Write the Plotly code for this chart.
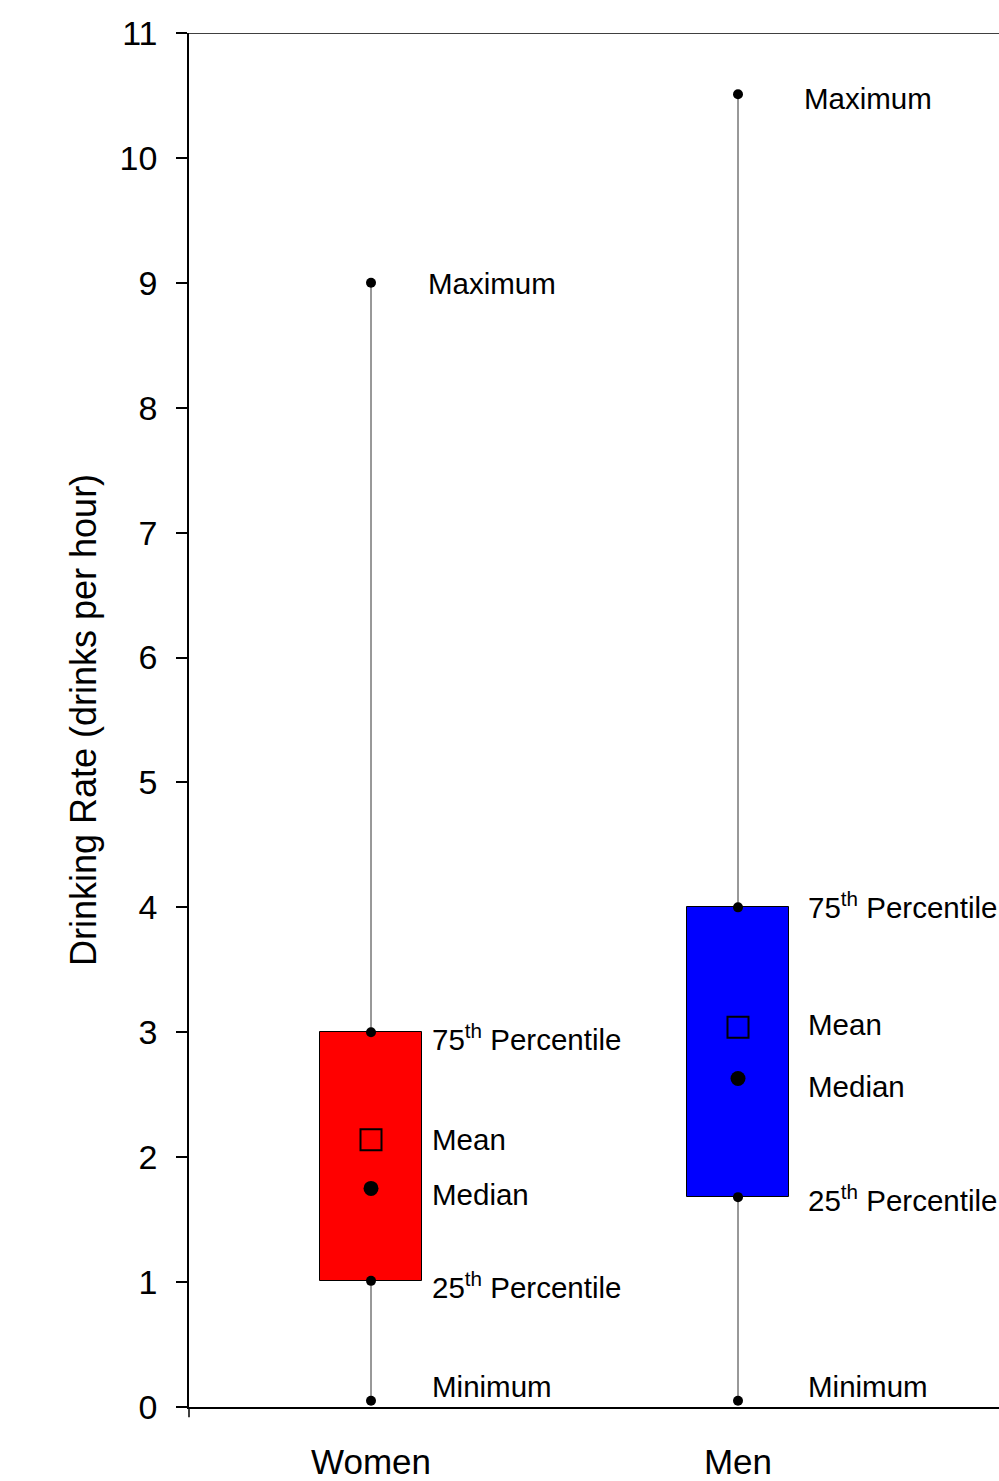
import plotly.graph_objects as go

categories = ["Women", "Men"]
cat_pos = [1, 2]
minimum = [0.05, 0.05]
q1 = [1.01, 1.68]
median = [1.75, 2.63]
mean = [2.14, 3.04]
q3 = [3.0, 4.0]
maximum = [9.0, 10.51]
box_colors = ["#FF0000", "#0000FF"]
y_ticks = list(range(0, 12))

FONT = "Liberation Sans, Arial, Helvetica, sans-serif"

fig = go.Figure()

# whiskers (outside the box)
for i, c in enumerate(cat_pos):
    fig.add_trace(go.Scatter(
        x=[c, c, None, c, c],
        y=[minimum[i], q1[i], None, q3[i], maximum[i]],
        mode="lines", line=dict(color="#333333", width=1),
        hoverinfo="skip", showlegend=False))

# boxes
fig.add_trace(go.Bar(
    x=cat_pos,
    base=q1,
    y=[b - a for a, b in zip(q1, q3)],
    width=0.28,
    marker=dict(color=box_colors, line=dict(color="black", width=1)),
    showlegend=False))

# small dots at min, q1, q3, max
for i, c in enumerate(cat_pos):
    fig.add_trace(go.Scatter(
        x=[c] * 4,
        y=[minimum[i], q1[i], q3[i], maximum[i]],
        mode="markers", marker=dict(color="black", size=10),
        showlegend=False))

# median dots
fig.add_trace(go.Scatter(
    x=cat_pos, y=median, mode="markers",
    marker=dict(color="black", size=15), showlegend=False))

# mean squares
fig.add_trace(go.Scatter(
    x=cat_pos, y=mean, mode="markers",
    marker=dict(symbol="square-open", color="black", size=21,
                line=dict(width=2, color="black")),
    showlegend=False))

# labels
label_text = {
    "max": "Maximum",
    "q3": "75<sup>th</sup> Percentile",
    "mean": "Mean",
    "median": "Median",
    "q1": "25<sup>th</sup> Percentile",
    "min": "Minimum",
}
xshift = [{"max": 55, "other": 59}, {"max": 64, "other": 68}]
yshift = [
    {"max": -1, "q3": -5, "mean": 0, "median": -6, "q1": -5, "min": 14},
    {"max": -4, "q3": 2, "mean": 3, "median": -8, "q1": -1, "min": 14},
]
values = {"max": maximum, "q3": q3, "mean": mean, "median": median,
          "q1": q1, "min": minimum}
for i, c in enumerate(cat_pos):
    for key, txt in label_text.items():
        fig.add_annotation(
            x=c, y=values[key][i], text=txt, showarrow=False,
            xanchor="left", yanchor="middle",
            xshift=xshift[i]["max"] if key == "max" else xshift[i]["other"],
            yshift=yshift[i][key],
            font=dict(family=FONT, size=29.5, color="black"))

# top frame line and y-axis extension below zero
fig.add_shape(type="line", xref="paper", yref="y", x0=0, x1=1, y0=11, y1=11,
              line=dict(color="black", width=1.5))
fig.add_shape(type="line", xref="paper", yref="paper", x0=0, x1=0,
              y0=0, y1=-0.0075, line=dict(color="black", width=1.5))

fig.update_layout(
    width=999, height=1481,
    margin=dict(l=189, r=0, t=33, b=71),
    paper_bgcolor="white", plot_bgcolor="white",
    font=dict(family=FONT, color="black"),
    bargap=0,
    xaxis=dict(
        range=[1 - 182 / 367, 1 + 628 / 367],
        tickvals=cat_pos, ticktext=categories,
        showline=True, linecolor="black", linewidth=1.5,
        ticks="outside", ticklen=23, tickcolor="rgba(0,0,0,0)",
        tickfont=dict(size=35, family=FONT),
        showgrid=False, zeroline=False,
    ),
    yaxis=dict(
        range=[0, 11], tickvals=y_ticks,
        showline=True, linecolor="black", linewidth=1.5,
        ticks="outside", ticklen=11, tickwidth=1.5, tickcolor="black",
        ticklabelstandoff=12,
        tickfont=dict(size=34, family=FONT),
        showgrid=False, zeroline=False,
        title=dict(text="Drinking Rate (drinks per hour)",
                   font=dict(size=36, family=FONT), standoff=12),
    ),
)

fig.write_html(
    "out.html",
    config={"displayModeBar": False},
    post_script="document.body.style.margin='0';document.body.style.overflow='hidden';",
)
